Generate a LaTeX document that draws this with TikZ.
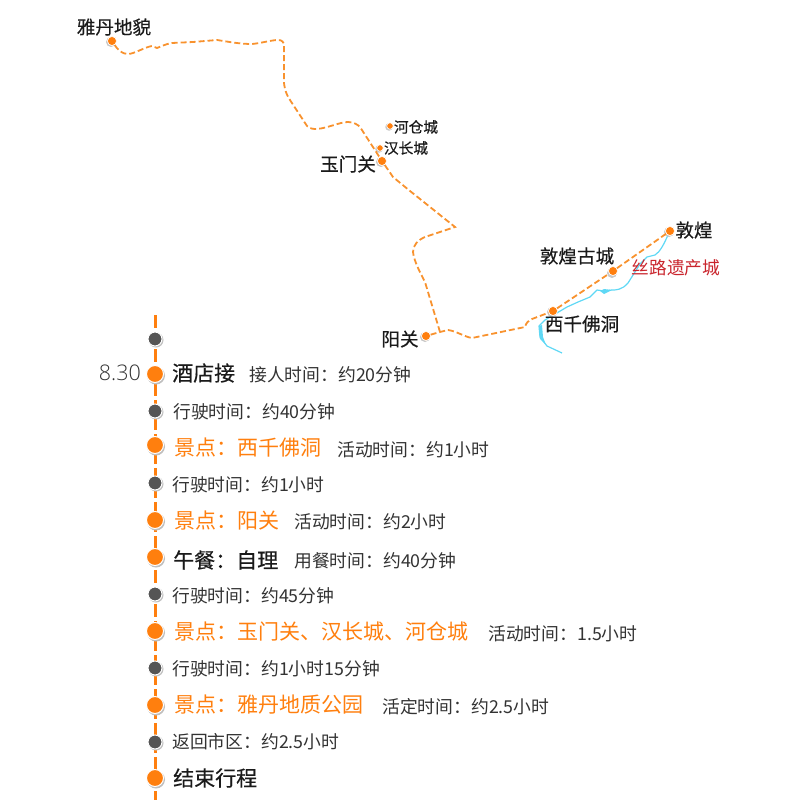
\documentclass[tikz,border=0pt]{standalone}
\usepackage{fontspec}
\setmainfont{Noto Sans CJK SC}
\newfontfamily\cjkbold{Noto Sans CJK SC}[FakeBold=0.4]
\newfontfamily\latinf{Open Sans Light}
\usetikzlibrary{calc}
\definecolor{og}{HTML}{FF7F0E}
\definecolor{routec}{HTML}{F8922E}
\definecolor{darkdot}{HTML}{555555}
\definecolor{rivc}{HTML}{5FD8F5}
\definecolor{redt}{HTML}{C9252D}
\definecolor{txt}{HTML}{333333}
\definecolor{blk}{HTML}{1A1A1A}
\tikzset{
 x=1pt,y=-1pt,
 route/.style={draw=routec,line width=1.8pt,dash pattern=on 6pt off 3pt},
 river/.style={draw=rivc,line width=1.2pt,line join=round},
 mapdot/.style={circle,fill=og,draw=white,line width=.6pt,inner sep=0pt,minimum size=9pt},
 mapdots/.style={circle,fill=og,draw=white,line width=.6pt,inner sep=0pt,minimum size=6.5pt},
 halo/.style={circle,fill=black!22,inner sep=0pt,minimum size=10pt},
 place/.style={font=\fontsize{18.6}{19}\cjkbold,text=blk,inner sep=0pt},
 places/.style={font=\fontsize{14.7}{15}\cjkbold,text=blk,inner sep=0pt},
 big/.style={circle,fill=og,draw=white,line width=1pt,inner sep=0pt,minimum size=17pt},
 small/.style={circle,fill=darkdot,draw=white,line width=1pt,inner sep=0pt,minimum size=14pt},
 shad/.style={circle,fill=black!25,inner sep=0pt},
 head/.style={anchor=west,font=\fontsize{21}{22}\cjkbold,text=blk,inner sep=0pt},
 heado/.style={anchor=west,font=\fontsize{21}{22}\selectfont,text=og,inner sep=0pt},
 note/.style={anchor=west,font=\fontsize{17.8}{19}\selectfont,text=txt,inner sep=0pt},
}
\begin{document}
\begin{tikzpicture}
\useasboundingbox (0,0) rectangle (800,800);
% river
\path[river] (668,235) .. controls (664,244) and (660,252) .. (655,255) -- (647,257) -- (640,264) -- (628,283) .. controls (622,290) and (616,290) .. (612,290) -- (604,291) -- (597,290) -- (590,297) -- (578,302) -- (567,307) -- (545,320) -- (539,326) -- (540,337) -- (547,346) -- (562,353);
\fill[rivc] (600,291) -- (604,289) -- (612,290) -- (604,294) -- cycle;
\fill[rivc] (539,326) -- (542,325) -- (543,337) -- (546,345) -- (540,339) -- cycle;
% place dots
\node[halo] at (111,42) {};
\node[mapdot] (yd) at (112,41) {};
\node[halo,minimum size=7.5pt] at (389,127) {};
\node[mapdots] (hc) at (390,126) {};
\node[halo,minimum size=7.5pt] at (379,149) {};
\node[mapdots] (hz) at (380,148) {};
\node[halo] at (381,162) {};
\node[mapdot] (ym) at (382,161) {};
\node[halo] at (425,337) {};
\node[mapdot] (yg) at (426,336) {};
\node[halo] at (552,312) {};
\node[mapdot] (xq) at (553,311) {};
\node[halo] at (612,273) {};
\node[mapdot] (gc) at (613,271) {};
\node[halo] at (669,232) {};
\node[mapdot] (dh) at (670,231) {};
% route
\coordinate (turn) at (455,227);
\coordinate (fork) at (440,332);
\path[route] (yd) .. controls (118,50) and (122,54) .. (128,54) .. controls (134,54) and (145,47) .. (152,46) -- (157,48) .. controls (162,46) and (166,44) .. (172,43) -- (193,42) -- (217,40) .. controls (230,42) and (240,44) .. (252,44) .. controls (262,43) and (272,40) .. (278,40) .. controls (282,40) and (284,42) .. (284,46) -- (284,83) .. controls (285,92) and (288,97) .. (290,100) -- (307,126) .. controls (310,129) and (314,129) .. (317,129) .. controls (328,128) and (340,122) .. (348,122) .. controls (354,122) and (358,125) .. (360,127) -- (ym) -- (393,177) -- (410,191) -- (turn) -- (425,237) .. controls (418,240) and (413,245) .. (413,252) .. controls (414,262) and (422,276) .. (425,282) -- (fork);
\path[route] (yg) -- (fork) -- (448,330) .. controls (456,331) and (465,337) .. (472,338) -- (525,327) .. controls (526,323) and (528,321) .. (532,319) -- (xq) -- (gc) -- (dh);
% redraw top dots over route
\node[mapdot] at (yd) {};
\node[mapdot] at (ym) {};
\node[mapdot] at (yg) {};
\node[mapdot] at (xq) {};
\node[mapdot] at (gc) {};
\node[mapdot] at (dh) {};
% place labels
\node[place] at (114,27) {雅丹地貌};
\node[places] at (416,127) {河仓城};
\node[places] at (406,148) {汉长城};
\node[place] at (348,164) {玉门关};
\node[place] at (400,339) {阳关};
\node[place] at (577,256) {敦煌古城};
\node[place] at (694,230) {敦煌};
\node[place] at (582,324) {西千佛洞};
\node[font=\fontsize{17.7}{18}\selectfont,text=redt,inner sep=0pt] at (676,268) {丝路遗产城};
% timeline
\coordinate (tltop) at (155,315);
\coordinate (tlbot) at (155,800);
\draw[og,line width=3pt,dash pattern=on 13pt off 4pt] (tltop) -- (tlbot);
\foreach \n/\y in {a/339,c/411,e/483,h/594,j/668,l/742}{
 \node[shad,minimum size=15pt] at (156,\y+1) {};
 \node[small] (\n) at (155,\y) {};
}
\foreach \n/\y in {b/374,d/445,f/520,g/557,i/631,k/705,m/778}{
 \node[shad,minimum size=18pt] at (156,\y+1.5) {};
 \node[big] (\n) at (155,\y) {};
}
% timeline text
\node[anchor=east,font=\fontsize{21.5}{22}\latinf,text=txt,inner sep=0pt] at (141,373) {8.30};
\node[head] at (172,373) {酒店接};
\node[note] at (249,375) {接人时间：约20分钟};
\node[note] at (173,412) {行驶时间：};
\node[note] at (262,412) {约40分钟};
\node[heado] at (174,448) {景点：西千佛洞};
\node[note] at (337,450) {活动时间：约1小时};
\node[note] at (172,485) {行驶时间：约1小时};
\node[heado] at (174,521) {景点：阳关};
\node[note] at (294,522) {活动时间：约2小时};
\node[head] at (173,560) {午餐：自理};
\node[note] at (294,561) {用餐时间：约40分钟};
\node[note] at (172,596) {行驶时间：约45分钟};
\node[heado] at (174,632) {景点：玉门关、汉长城、河仓城};
\node[note] at (488,634) {活动时间：1.5小时};
\node[note] at (172,669) {行驶时间：约1小时15分钟};
\node[heado] at (174,705) {景点：雅丹地质公园};
\node[note] at (382,707) {活定时间：约2.5小时};
\node[note] at (172,742) {返回市区：约2.5小时};
\node[head] at (173,778) {结束行程};
\end{tikzpicture}
\end{document}
